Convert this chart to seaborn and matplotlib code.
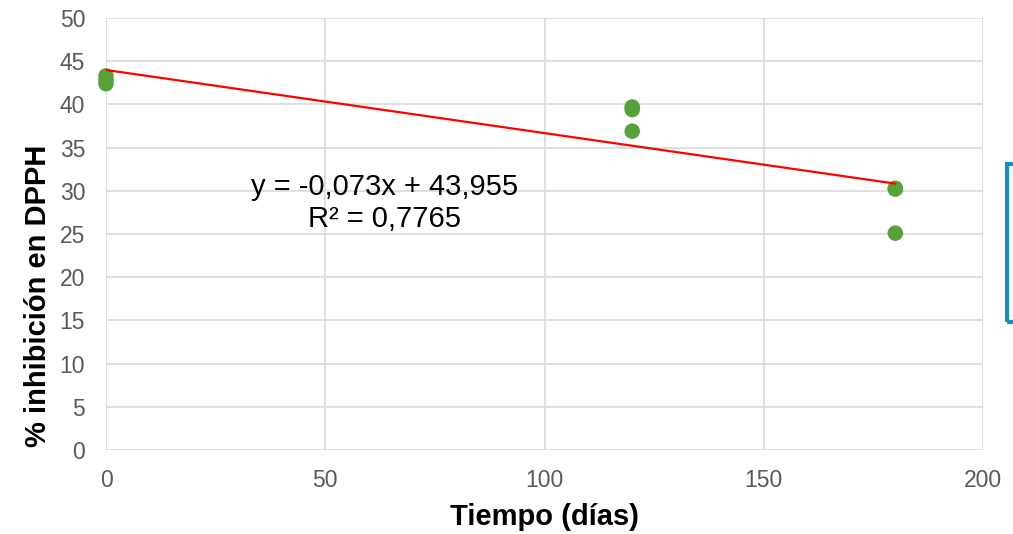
import numpy as np
import pandas as pd
import matplotlib
matplotlib.use("Agg")
import matplotlib.pyplot as plt
import seaborn as sns
from matplotlib.patches import Rectangle

# Data
tiempo = [0, 0, 0, 120, 120, 120, 180, 180, 180]
inhibicion = [42.4, 42.8, 43.3, 39.7, 39.4, 36.9, 30.3, 30.2, 25.1]
x_ticks = [0, 50, 100, 150, 200]
y_ticks = [0, 5, 10, 15, 20, 25, 30, 35, 40, 45, 50]
eq_text = "y = -0,073x + 43,955"
r2_text = "R² = 0,7765"
x_label = "Tiempo (días)"
y_label = "% inhibición en DPPH"

sns.set_theme(style="white")
plt.rcParams['font.family'] = ['Liberation Sans', 'DejaVu Sans']

df = pd.DataFrame({"t": tiempo, "y": inhibicion})
slope, intercept = np.polyfit(df["t"], df["y"], 1)
fit = pd.DataFrame({"t": [0, 180]})
fit["y"] = intercept + slope * fit["t"]

fig = plt.figure(figsize=(10.13, 5.34), dpi=100)
ax = fig.add_axes([106/1013, 1-450/534, (983-106)/1013, (450-18)/534])

sns.scatterplot(data=df, x="t", y="y", ax=ax, color="#57a03a", s=125,
                edgecolor="none", zorder=3, clip_on=False)
sns.lineplot(data=fit, x="t", y="y", ax=ax, color="#ff0000", linewidth=1.6,
             zorder=4)

ax.set_xlim(0, 200)
ax.set_ylim(0, 50)
ax.set_xticks(x_ticks)
ax.set_yticks(y_ticks)
ax.grid(True, color="#d9d9d9", linewidth=1.2)
ax.set_axisbelow(True)
for s in ax.spines.values():
    s.set_visible(False)
ax.tick_params(axis="both", length=0, labelsize=16.5, labelcolor="#595959")
ax.tick_params(axis="x", pad=14)
ax.tick_params(axis="y", pad=15)

ax.set_xlabel(x_label, fontsize=21, fontweight="bold", color="black")
ax.set_ylabel(y_label, fontsize=21, fontweight="bold", color="black")
ax.xaxis.set_label_coords(0.5, (450-517)/432)
ax.xaxis.label.set_va("center")
ax.yaxis.set_label_coords((38-106)/877, (450-296)/432)
ax.yaxis.label.set_va("center")
ax.yaxis.label.set_ha("center")

ax.text(63.6, 30.4, eq_text, ha="center", va="center", fontsize=21, color="black")
ax.text(63.6, 26.7, r2_text, ha="center", va="center", fontsize=21, color="black")

fig.patches.append(Rectangle((1007/1013, 1-322/534), 30/1013, (322-164)/534,
                             transform=fig.transFigure, fill=False,
                             edgecolor="#1b8bb8", linewidth=3, clip_on=False))

fig.savefig("out.png", dpi=100)
